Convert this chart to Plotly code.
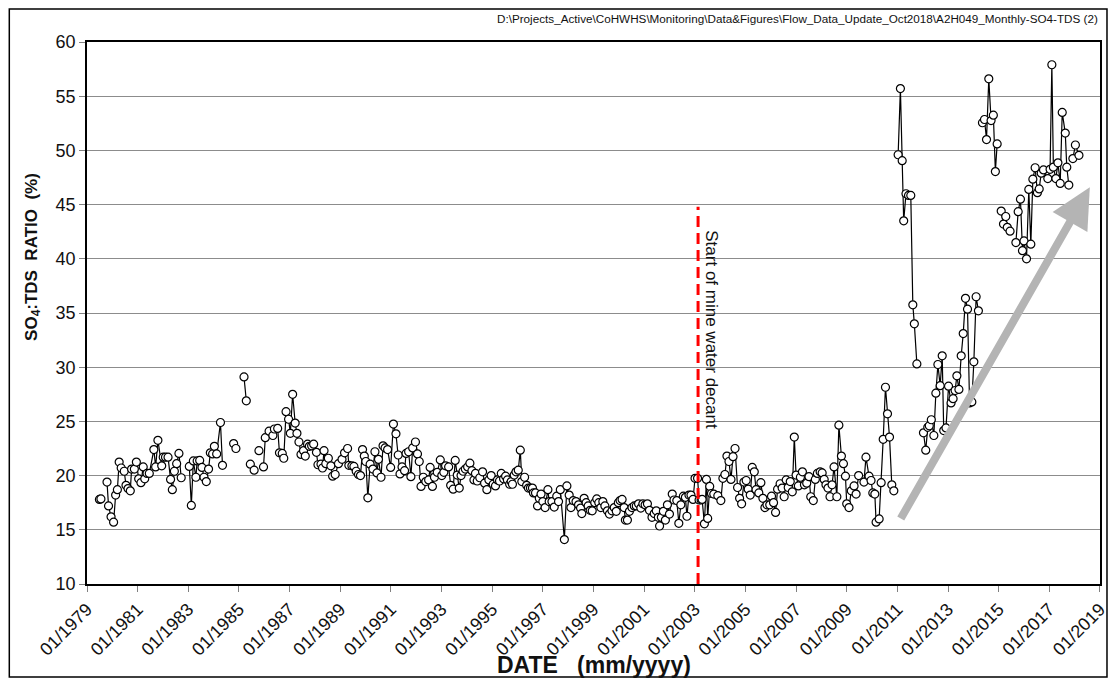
import plotly.graph_objects as go
from datetime import datetime, timedelta

# decimal years of each sample (None marks a break in the record)
years = [
    1979.49, 1979.55, None,
    1979.79, 1979.85, 1979.95, 1980.05, 1980.13, 1980.20, 1980.27, 1980.35, 1980.47, 1980.54,
    1980.62, 1980.71, 1980.76, 1980.87, 1980.95, 1981.04, 1981.13, 1981.22, 1981.28, 1981.37,
    1981.46, 1981.64, 1981.71, 1981.80, 1981.95, 1982.01, 1982.10, 1982.20, 1982.30, 1982.37,
    1982.45, 1982.54, 1982.63, 1982.72, None,
    1983.04, 1983.12, 1983.20, 1983.30, 1983.35, 1983.45, 1983.54, 1983.62, 1983.71, 1983.80,
    1983.87, 1983.96, 1984.03, 1984.12, 1984.27, 1984.35, None,
    1984.79, 1984.88, None,
    1985.20, 1985.29, None,
    1985.45, 1985.60, None,
    1985.79, None,
    1985.97, 1986.04, 1986.19, 1986.34, 1986.40, 1986.53, 1986.60, 1986.71, 1986.77, 1986.86,
    1986.96, 1987.03, 1987.12, 1987.22, 1987.29, 1987.37, 1987.45, 1987.55, 1987.62, 1987.71,
    1987.78, 1987.87, 1987.95, 1988.06, 1988.12, 1988.24, 1988.30, 1988.36, 1988.43, 1988.53,
    1988.63, 1988.70, 1988.80, 1988.93, 1989.07, 1989.17, 1989.29, 1989.34, 1989.46, 1989.54,
    1989.63, 1989.72, 1989.80, 1989.88, 1989.95, 1990.01, 1990.09, 1990.18, 1990.29, 1990.37,
    1990.45, 1990.51, 1990.61, 1990.69, 1990.77, 1990.87, 1990.99, 1991.10, 1991.20, 1991.29,
    1991.36, 1991.44, 1991.54, 1991.60, 1991.70, 1991.79, 1991.86, 1991.97, 1992.05, 1992.12,
    1992.19, 1992.28, 1992.38, 1992.49, 1992.55, 1992.64, 1992.72, 1992.83, 1992.95, 1993.01,
    1993.09, 1993.16, 1993.28, 1993.36, 1993.46, 1993.54, 1993.62, 1993.70, 1993.77, 1993.85,
    1993.94, 1994.03, 1994.12, 1994.20, 1994.28, 1994.34, 1994.41, 1994.51, 1994.62, 1994.70,
    1994.79, 1994.87, 1994.96, 1995.04, 1995.13, 1995.21, 1995.29, 1995.36, 1995.45, 1995.53,
    1995.60, 1995.69, 1995.75, 1995.80, 1995.87, 1995.94, 1996.03, 1996.11, 1996.17, 1996.28,
    1996.36, 1996.43, 1996.51, 1996.59, 1996.63, 1996.71, 1996.79, 1996.86, 1996.93, 1997.00,
    1997.09, 1997.20, 1997.25, 1997.36, 1997.45, 1997.55, 1997.62, 1997.69, 1997.85, 1997.95,
    1998.04, 1998.11, 1998.20, 1998.31, 1998.41, 1998.49, 1998.54, 1998.63, 1998.71, 1998.79,
    1998.87, 1998.95, 1999.05, 1999.13, 1999.21, 1999.29, 1999.37, 1999.45, 1999.55, 1999.63,
    1999.73, 1999.82, 1999.90, 1999.98, 2000.05, 2000.13, 2000.21, 2000.26, 2000.34, 2000.42,
    2000.52, 2000.61, 2000.69, 2000.78, 2000.87, 2000.95, 2001.04, 2001.13, 2001.21, 2001.31,
    2001.40, 2001.48, 2001.56, 2001.61, 2001.68, 2001.76, 2001.84, 2001.92, 2002.00, 2002.11,
    2002.18, 2002.29, 2002.37, 2002.45, 2002.55, 2002.63, 2002.69, 2002.77, 2002.85, 2002.93,
    2003.01, 2003.11, 2003.17, 2003.25, 2003.29, 2003.38, 2003.46, 2003.51, 2003.59, 2003.66,
    2003.75, 2003.91, 2004.03, 2004.11, 2004.19, 2004.27, 2004.35, 2004.43, 2004.51, 2004.59,
    2004.69, 2004.77, 2004.85, 2004.94, 2005.03, 2005.11, 2005.19, 2005.27, 2005.35, 2005.42,
    2005.53, 2005.61, 2005.69, 2005.77, 2005.85, 2005.96, 2006.03, 2006.11, 2006.19, 2006.27,
    2006.37, 2006.45, 2006.53, 2006.61, 2006.69, 2006.77, 2006.85, 2006.93, 2007.00, 2007.09,
    2007.17, 2007.25, 2007.33, 2007.42, 2007.51, 2007.58, 2007.68, 2007.76, 2007.84, 2007.95,
    2008.03, 2008.11, 2008.18, 2008.26, 2008.34, 2008.42, 2008.50, 2008.61, 2008.69, 2008.79,
    2008.87, 2008.95, 2009.00, 2009.09, 2009.18, 2009.29, 2009.37, 2009.47, 2009.68, 2009.76,
    2009.88, 2009.96, 2010.03, 2010.11, 2010.16, 2010.28, 2010.36, 2010.44, 2010.53, 2010.61,
    2010.69, 2010.78, 2010.86, None,
    2011.03, 2011.12, 2011.19, 2011.25, 2011.34, 2011.44, 2011.53, 2011.61, 2011.67, 2011.77, None,
    2012.03, 2012.12, 2012.20, 2012.26, 2012.34, 2012.44, 2012.52, 2012.60, 2012.69, 2012.77,
    2012.83, 2012.92, 2013.02, 2013.12, 2013.20, 2013.28, 2013.35, 2013.43, 2013.52, 2013.60,
    2013.69, 2013.77, 2013.85, 2013.94, 2014.02, 2014.11, 2014.20, None,
    2014.36, 2014.44, 2014.52, 2014.61, 2014.70, 2014.79, 2014.87, 2014.94, None,
    2015.10, 2015.19, 2015.28, 2015.34, 2015.45, None,
    2015.68, 2015.77, 2015.86, 2015.94, 2016.00, 2016.10, 2016.19, 2016.27, 2016.35, 2016.44,
    2016.53, 2016.60, 2016.68, 2016.77, 2016.94, 2017.03, 2017.10, 2017.16, 2017.26, 2017.34,
    2017.43, 2017.51, 2017.63, 2017.69, 2017.77, None,
    2017.93, 2018.03, 2018.17,
]

ratio = [
    17.8, 17.85, None,
    19.4, 17.2, 16.2, 15.7, 18.2, 18.7, 21.25, 20.7, 20.4, 19.1,
    18.8, 18.6, 20.6, 20.6, 21.25, 19.7, 19.35, 20.8, 19.7, 20.2,
    20.2, 22.4, 20.8, 23.25, 20.9, 21.7, 21.7, 21.7, 19.65, 18.7,
    20.4, 21.1, 22.05, 19.8, None,
    20.85, 17.25, 21.35, 19.85, 21.35, 21.4, 20.75, 19.85, 19.45, 20.6,
    22.1, 22.0, 22.7, 22.0, 24.9, 20.95, None,
    22.95, 22.5, None,
    29.1, 26.9, None,
    21.05, 20.5, None,
    22.3, None,
    20.8, 23.5, 24.1, 23.7, 24.3, 24.35, 22.1, 22.05, 21.6, 25.9,
    25.2, 23.9, 27.5, 24.85, 23.9, 23.1, 21.95, 22.3, 21.8, 22.9,
    22.7, 22.75, 22.9, 22.15, 21.0, 21.05, 20.7, 22.3, 21.1, 21.6,
    20.9, 19.95, 20.1, 21.1, 21.5, 22.1, 22.5, 20.95, 20.9, 20.85,
    20.4, 20.1, 20.0, 22.4, 21.8, 21.3, 17.95, 21.05, 20.6, 22.2,
    20.25, 21.5, 19.85, 22.75, 22.55, 22.4, 20.75, 24.75, 23.85, 21.9,
    20.15, 20.8, 20.45, 22.05, 22.2, 19.9, 22.55, 23.1, 22.0, 21.3,
    19.0, 19.85, 19.45, 19.6, 20.75, 19.0, 19.85, 20.3, 21.45, 20.0,
    20.3, 20.9, 20.8, 19.1, 18.75, 21.4, 20.05, 18.85, 20.0, 20.4,
    20.6, 20.8, 21.15, 20.45, 19.6, 20.2, 19.5, 19.8, 20.35, 19.3,
    18.7, 19.6, 20.0, 19.2, 19.05, 19.6, 19.5, 20.2, 19.7, 19.95,
    19.6, 19.2, 19.45, 19.2, 20.05, 20.35, 20.5, 22.35, 19.45, 19.85,
    19.1, 18.85, 18.85, 18.85, 18.4, 18.4, 17.2, 17.9, 18.3, 17.6,
    17.05, 18.7, 17.6, 17.6, 17.1, 18.1, 17.6, 18.7, 14.1, 19.05,
    18.2, 17.05, 17.7, 17.6, 17.3, 17.0, 16.5, 17.9, 17.5, 17.2,
    16.8, 16.75, 17.5, 17.85, 17.5, 17.05, 17.6, 17.2, 16.75, 16.45,
    16.75, 17.05, 16.7, 17.5, 17.7, 17.8, 17.05, 15.9, 15.9, 16.7,
    17.05, 17.2, 17.2, 17.4, 17.0, 17.4, 17.3, 17.4, 16.8, 16.15,
    16.5, 16.75, 16.15, 15.35, 16.15, 16.7, 15.9, 17.3, 16.45, 18.3,
    17.75, 17.7, 15.6, 17.3, 18.1, 18.0, 16.25, 18.2, 18.2, 17.8,
    19.75, 19.75, 17.75, 17.75, 17.8, 15.55, 19.65, 16.05, 19.0, 18.35,
    18.3, 18.15, 17.7, 19.75, 20.1, 21.8, 21.3, 19.65, 21.75, 22.5,
    18.9, 17.9, 17.4, 19.4, 19.55, 18.75, 18.2, 20.75, 20.35, 18.7,
    18.4, 19.35, 17.9, 17.05, 17.3, 17.3, 18.1, 17.5, 16.6, 18.75,
    19.25, 18.85, 18.05, 19.6, 18.9, 19.45, 18.5, 23.55, 20.05, 19.05,
    19.85, 20.35, 19.15, 19.3, 19.9, 18.05, 17.7, 19.65, 20.2, 20.35,
    20.25, 19.65, 19.15, 18.85, 18.05, 19.15, 20.8, 18.05, 24.65, 21.8,
    21.1, 19.95, 17.4, 17.05, 18.6, 19.05, 18.3, 20.0, 19.4, 21.7,
    19.95, 19.55, 18.4, 18.3, 15.7, 16.0, 19.35, 23.35, 28.15, 25.7,
    23.55, 19.15, 18.6, None,
    49.6, 55.7, 49.05, 43.5, 46.0, 45.85, 45.85, 35.75, 34.0, 30.3, None,
    23.95, 22.35, 24.45, 24.6, 25.15, 23.7, 27.6, 30.25, 28.3, 31.05,
    24.15, 24.4, 28.25, 26.7, 27.1, 27.85, 29.2, 27.95, 31.05, 33.1,
    36.35, 35.35, 26.7, 26.8, 30.5, 36.5, 35.2, None,
    52.55, 52.85, 51.0, 56.6, 52.75, 53.25, 48.05, 50.6, None,
    44.4, 43.2, 43.9, 42.9, 42.55, None,
    41.5, 44.35, 45.5, 40.75, 41.65, 40.0, 46.4, 41.35, 47.35, 48.4,
    46.1, 46.45, 47.9, 48.2, 47.4, 48.25, 57.9, 48.45, 47.4, 48.85,
    46.95, 53.5, 51.6, 48.45, 46.8, None,
    49.25, 50.5, 49.55,
]

tick_years = list(range(1979, 2020, 2))
tick_labels = [f"01/{y}" for y in tick_years]

decant_year = 2003.13
decant_top = 44.8
arrow_tail = (2011.1, 15.9)
arrow_head = (2018.6, 46.6)

file_label = (r"D:\Projects_Active\CoHWHS\Monitoring\Data&Figures"
              r"\Flow_Data_Update_Oct2018\A2H049_Monthly-SO4-TDS (2)")
x_title = "<b>DATE\u00a0\u00a0\u00a0(mm/yyyy)</b>"
y_title = "<b>SO<sub>4</sub>:TDS\u00a0\u00a0RATIO\u00a0\u00a0(%)</b>"
decant_label = "Start of mine water decant"


def to_date(y):
    if y is None:
        return None
    return datetime(1979, 1, 1) + timedelta(days=(y - 1979) * 365.25)


dates = [to_date(y) for y in years]

FONT = "Liberation Sans, Arial, sans-serif"

fig = go.Figure()
fig.add_trace(go.Scatter(
    x=dates, y=ratio, mode="lines+markers", connectgaps=False,
    line=dict(color="black", width=1.2),
    marker=dict(symbol="circle", size=8, color="white",
                line=dict(color="black", width=1.2)),
    showlegend=False, hoverinfo="x+y",
))

fig.add_shape(type="line", xref="x", yref="y",
              x0=to_date(decant_year), x1=to_date(decant_year), y0=10, y1=decant_top,
              line=dict(color="#ff0000", width=3, dash="11px,6px"))

fig.add_annotation(x=to_date(decant_year + 0.55), y=33.5, xref="x", yref="y",
                   text=decant_label, textangle=90, showarrow=False,
                   font=dict(family=FONT, size=17, color="#111111"))

fig.add_annotation(x=to_date(arrow_head[0]), y=arrow_head[1],
                   ax=to_date(arrow_tail[0]), ay=arrow_tail[1],
                   xref="x", yref="y", axref="x", ayref="y",
                   text="", showarrow=True, arrowhead=2, arrowsize=1.0,
                   arrowwidth=8, arrowcolor="#b4b4b4")

fig.add_annotation(x=1.0, y=1.044, xref="paper", yref="paper", xanchor="right",
                   yanchor="middle", text=file_label, showarrow=False,
                   font=dict(family=FONT, size=11.7, color="#111111"))

# axis titles
fig.add_annotation(x=0.5, y=-0.149, xref="paper", yref="paper", xanchor="center",
                   yanchor="middle", text=x_title, showarrow=False,
                   font=dict(family=FONT, size=23, color="#111111"))
fig.add_annotation(x=-0.054, y=0.604, xref="paper", yref="paper", xanchor="center",
                   yanchor="middle", text=y_title, textangle=-90, showarrow=False,
                   font=dict(family=FONT, size=17, color="#111111"))

# outer frame
fig.add_shape(type="rect", xref="paper", yref="paper",
              x0=-0.0767, x1=1.0069, y0=-0.1716, y1=1.0609,
              line=dict(color="black", width=1.5), fillcolor="rgba(0,0,0,0)", layer="below")

fig.update_layout(
    width=1100, height=670,
    margin=dict(l=79, r=8, t=34, b=94, autoexpand=False),
    paper_bgcolor="white", plot_bgcolor="white",
    font=dict(family=FONT, size=18, color="#111111"),
    xaxis=dict(
        type="date",
        automargin=False,
        range=[datetime(1979, 1, 1), datetime(2019, 1, 1, 12)],
        tickmode="array",
        tickvals=[datetime(y, 1, 1) for y in tick_years],
        ticktext=tick_labels,
        tickangle=-45,
        ticklabeloverflow="allow",
        ticks="outside", ticklen=6, tickcolor="#808080", tickwidth=1,
        showgrid=False,
        showline=True, linecolor="black", linewidth=1.5, mirror=True,
        tickfont=dict(size=18),
        zeroline=False,
    ),
    yaxis=dict(
        automargin=False,
        range=[10, 60], dtick=5, tick0=10,
        ticks="outside", ticklen=6, tickcolor="#808080", tickwidth=1,
        showgrid=True, gridcolor="#8c8c8c", gridwidth=1,
        showline=True, linecolor="black", linewidth=1.5, mirror=True,
        tickfont=dict(size=18),
        zeroline=False,
    ),
)

fig.write_html("out.html")
